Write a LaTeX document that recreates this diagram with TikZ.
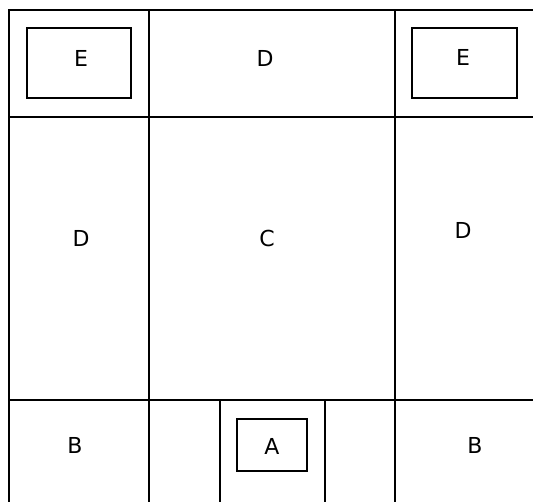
\documentclass[tikz,border=0pt]{standalone}
\usepackage{fontspec}
\setmainfont{DejaVu Sans}
\begin{document}
\begin{tikzpicture}[x=1pt,y=-1pt,
  grid/.style={line width=1.8pt,black},
  boxe/.style={draw,line width=1.8pt,inner sep=0pt},
  lbl/.style={font=\fontsize{22}{24}\selectfont}]
\useasboundingbox[fill=white] (0,0) rectangle (533,502);
% outer lines
\draw[grid] (9,502) -- (9,10) -- (533,10);
\draw[grid] (9,117) -- (533,117);
\draw[grid] (9,400) -- (533,400);
\draw[grid] (149,10) -- (149,502);
\draw[grid] (395,10) -- (395,502);
\draw[grid] (220,400) -- (220,502);
\draw[grid] (325,400) -- (325,502);
% inner boxes
\node[boxe,minimum width=104pt,minimum height=70pt] (eL) at (79,63) {};
\node[boxe,minimum width=105pt,minimum height=70pt] (eR) at (464.5,63) {};
\node[boxe,minimum width=70pt,minimum height=52pt] (a) at (272,445) {};
% labels
\node[lbl] (tE1) at (81,58) {E};
\node[lbl] (tD1) at (265,58) {D};
\node[lbl] (tE2) at (463,57) {E};
\node[lbl] (tD2) at (81,238) {D};
\node[lbl] (tC) at (267,238) {C};
\node[lbl] (tD3) at (463,230) {D};
\node[lbl] (tB1) at (75,445) {B};
\node[lbl] (tA) at (272,446) {A};
\node[lbl] (tB2) at (475,445) {B};
\end{tikzpicture}
\end{document}
